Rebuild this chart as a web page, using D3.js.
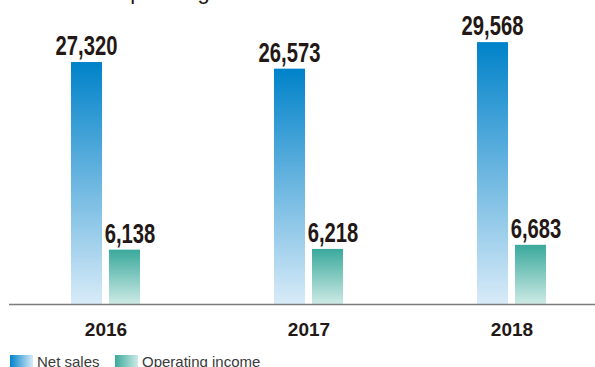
<!DOCTYPE html>
<html>
<head>
<meta charset="utf-8">
<script src="https://cdn.jsdelivr.net/npm/d3@7/dist/d3.min.js"></script>
<style>
  html, body { margin: 0; padding: 0; background: #fff; }
  svg { display: block; }
</style>
</head>
<body>
<svg id="chart" width="595" height="367"></svg>
<script>
// Fiscal years and the two reported series (millions of yen)
const years = ["2016", "2017", "2018"];
const netSales = [27320, 26573, 29568];
const operatingIncome = [6138, 6218, 6683];
const seriesNames = ["Net sales", "Operating income"];
const titleText = "Sales and operating income";

const svg = d3.select("#chart");
const baseY = 304;

const x = d3.scalePoint().domain(years).range([105.5, 511.5]);
const inner = d3.scaleBand().domain(seriesNames).range([-34.5, 34.5]).paddingInner(0.184);
const y = d3.scaleLinear().domain([0, 30000]).range([baseY, 38.3]);

// Gradients for the bars and legend swatches
const defs = svg.append("defs");
function grad(id, c1, c2, horizontal) {
  const g = defs.append("linearGradient").attr("id", id)
    .attr("x1", 0).attr("y1", 0)
    .attr("x2", horizontal ? 1 : 0).attr("y2", horizontal ? 0 : 1);
  g.append("stop").attr("offset", "0%").attr("stop-color", c1);
  g.append("stop").attr("offset", "100%").attr("stop-color", c2);
}
const colors = {
  "Net sales": { top: "#0082c9", bottom: "#d8ebf8" },
  "Operating income": { top: "#3aa99c", bottom: "#cdeae5" }
};
grad("g-net", colors["Net sales"].top, colors["Net sales"].bottom, false);
grad("g-op", colors["Operating income"].top, colors["Operating income"].bottom, false);
grad("l-net", colors["Net sales"].top, colors["Net sales"].bottom, true);
grad("l-op", colors["Operating income"].top, colors["Operating income"].bottom, true);

// Heading (sits partly above the visible area)
svg.append("text")
  .attr("x", 14).attr("y", -1.5)
  .attr("font-family", "Liberation Sans, Arial, sans-serif")
  .attr("font-size", 22)
  .attr("fill", "#231815")
  .text(titleText);

const rows = years.map((yr, i) => ({
  year: yr,
  vals: [
    { key: "Net sales", v: netSales[i], fill: "url(#g-net)", shift: 0 },
    { key: "Operating income", v: operatingIncome[i], fill: "url(#g-op)", shift: 5.5 }
  ]
}));

const groups = svg.selectAll("g.year").data(rows).join("g")
  .attr("class", "year")
  .attr("transform", d => `translate(${x(d.year)},0)`);

groups.selectAll("rect").data(d => d.vals).join("rect")
  .attr("x", d => inner(d.key))
  .attr("width", inner.bandwidth())
  .attr("y", d => y(d.v))
  .attr("height", d => y(0) - y(d.v))
  .attr("fill", d => d.fill);

// Condensed bold value labels above each bar
const fmt = d3.format(",");
groups.selectAll("text.val").data(d => d.vals).join("text")
  .attr("class", "val")
  .attr("text-anchor", "middle")
  .attr("transform", d => `translate(${inner(d.key) + inner.bandwidth() / 2 + d.shift},${y(d.v) - 7}) scale(0.735,1)`)
  .attr("font-family", "Liberation Sans, Arial, sans-serif")
  .attr("font-weight", "bold")
  .attr("font-size", 27.5)
  .attr("fill", "#231815")
  .text(d => fmt(d.v));

// Baseline axis
const axis = svg.append("g").attr("transform", `translate(0,${baseY})`)
  .call(d3.axisBottom(x).tickSize(0).tickPadding(0));
axis.select(".domain").remove();
axis.append("line")
  .attr("x1", 9).attr("x2", 595).attr("y1", 0.5).attr("y2", 0.5)
  .attr("stroke", "#7d7d7d").attr("stroke-width", 1.5);
axis.selectAll(".tick text")
  .attr("y", 32)
  .attr("dy", 0)
  .attr("font-family", "Liberation Sans, Arial, sans-serif")
  .attr("font-weight", "bold")
  .attr("font-size", 19)
  .attr("fill", "#231815");

// Legend
const legend = svg.append("g").attr("transform", "translate(10,355)");
const legItems = [
  { name: seriesNames[0], fill: "url(#l-net)", x: 0 },
  { name: seriesNames[1], fill: "url(#l-op)", x: 105 }
];
const li = legend.selectAll("g").data(legItems).join("g")
  .attr("transform", d => `translate(${d.x},0)`);
li.append("rect").attr("x", 0).attr("y", 0).attr("width", 23).attr("height", 14)
  .attr("fill", d => d.fill);
li.append("text").attr("x", 27).attr("y", 11.5)
  .attr("font-family", "Liberation Sans, Arial, sans-serif")
  .attr("font-size", 15)
  .attr("fill", "#3a3a3a")
  .text(d => d.name);
</script>
</body>
</html>
